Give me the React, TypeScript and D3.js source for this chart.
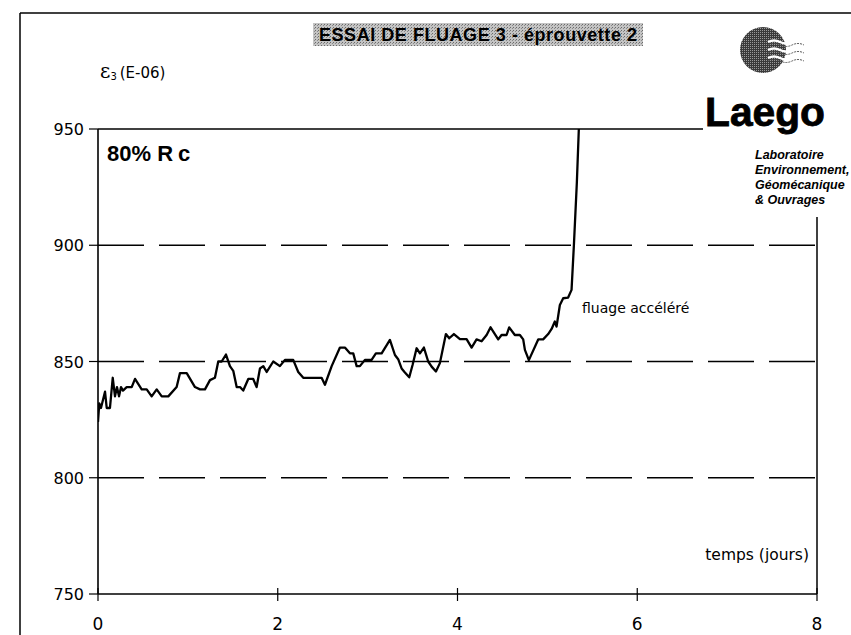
import React from "react";
import * as d3 from "d3";

// creep test: strain vs time (days)
const days = [0, 0.014, 0.033, 0.078, 0.097, 0.133, 0.164, 0.189, 0.211, 0.234, 0.256, 0.278, 0.319, 0.375, 0.412, 0.486, 0.542, 0.597, 0.653, 0.709, 0.782, 0.875, 0.912, 0.987, 1.079, 1.135, 1.19, 1.246, 1.301, 1.338, 1.376, 1.424, 1.468, 1.505, 1.543, 1.58, 1.616, 1.672, 1.727, 1.765, 1.802, 1.839, 1.877, 1.95, 2.024, 2.08, 2.172, 2.228, 2.284, 2.488, 2.525, 2.6, 2.692, 2.747, 2.803, 2.84, 2.878, 2.914, 2.97, 3.044, 3.092, 3.156, 3.248, 3.304, 3.34, 3.378, 3.415, 3.463, 3.5, 3.545, 3.582, 3.626, 3.674, 3.712, 3.76, 3.804, 3.871, 3.908, 3.96, 4.027, 4.101, 4.157, 4.212, 4.268, 4.324, 4.368, 4.453, 4.49, 4.546, 4.575, 4.638, 4.694, 4.731, 4.75, 4.794, 4.898, 4.953, 5.009, 5.047, 5.083, 5.102, 5.139, 5.176, 5.231, 5.269, 5.295, 5.328, 5.35];
const strain = [824, 832, 830, 837, 830, 830, 843, 835, 839, 835, 839, 837.5, 839, 839, 842.5, 838, 838, 835, 838, 835, 835, 839, 845, 845, 839, 838, 838, 842, 843, 850, 850, 853, 848, 846, 839, 839, 837.5, 842.5, 842.5, 839, 847, 848, 845.5, 850, 848, 850.7, 850.7, 845.5, 843, 843, 840, 848, 856, 856, 853.5, 853.5, 848, 848, 850.7, 850.7, 853.5, 853.5, 859.3, 852.8, 851, 847, 845.3, 843.2, 848.5, 855.7, 853.5, 856, 850, 847.8, 845.7, 849.3, 861.8, 860, 861.8, 859.6, 859.6, 856, 859.5, 858.7, 861.4, 864.7, 859.5, 861.4, 861.4, 864.7, 861.4, 861.4, 859.5, 855, 850.6, 859.5, 859.5, 861.8, 864, 867.2, 865, 874.3, 877.2, 877.5, 880.8, 900, 927, 950];

const xTicks = [0, 2, 4, 6, 8];
const yTicks = [750, 800, 850, 900, 950];
const gridValues = [800, 850, 900];
const logoLines = ["Laboratoire", "Environnement,", "Géomécanique", "& Ouvrages"];

const W = 851;
const H = 635;
const left = 98;
const right = 817;
const top = 129;
const bottom = 594;

const App: React.FunctionComponent = function () {
  const x = d3.scaleLinear().domain([0, 8]).range([left, right]);
  const y = d3.scaleLinear().domain([750, 950]).range([bottom, top]);
  const pts: [number, number][] = days.map((d, i) => [d, strain[i]]);
  const line = d3
    .line<[number, number]>()
    .x((d) => x(d[0]))
    .y((d) => y(d[1]));

  const gothic = "'DejaVu Sans', 'Liberation Sans', sans-serif";
  const narrow = "'Liberation Sans Narrow', 'Liberation Sans', Arial, sans-serif";

  return (
    <svg
      width={W}
      height={H}
      style={{ position: "absolute", left: 0, top: 0, background: "#fff" }}
    >
      <defs>
        <pattern id="stip" width="3" height="3" patternUnits="userSpaceOnUse">
          <rect width="3" height="3" fill="#c4c4c4" />
          <rect x="0" y="0" width="1" height="1" fill="#6a6a6a" />
          <rect x="2" y="1" width="1" height="1" fill="#8a8a8a" />
        </pattern>
        <pattern id="dark" width="2" height="2" patternUnits="userSpaceOnUse">
          <rect width="2" height="2" fill="#3a3a3a" />
          <rect x="0" y="0" width="1" height="1" fill="#9a9a9a" />
        </pattern>
        <clipPath id="plot">
          <rect x={left} y={top} width={right - left} height={bottom - top} />
        </clipPath>
      </defs>

      {/* page frame */}
      <line x1={20} y1={13} x2={W} y2={13} stroke="#000" strokeWidth={1.5} />
      <line x1={20} y1={13} x2={20} y2={H} stroke="#000" strokeWidth={1.5} />

      {/* title */}
      <rect x={313} y={23} width={330} height={23} fill="url(#stip)" />
      <text
        x={478}
        y={41}
        textAnchor="middle"
        fontFamily="'Liberation Sans', Arial, sans-serif"
        fontWeight="bold"
        fontSize={18}
        textLength={318}
        lengthAdjust="spacing"
      >
        ESSAI DE FLUAGE 3 - éprouvette 2
      </text>

      {/* y label */}
      <text x={100} y={78} fontFamily={gothic} fontSize={15}>
        <tspan fontFamily="'DejaVu Serif', serif" fontSize={20}>ε</tspan>
        <tspan fontSize={10} dy={2}>3</tspan>
        <tspan dy={-2} dx={3}>(E-06)</tspan>
      </text>

      {/* grid */}
      {gridValues.map((v) => (
        <line
          key={v}
          x1={left}
          x2={right}
          y1={y(v)}
          y2={y(v)}
          stroke="#000"
          strokeWidth={1.5}
          strokeDasharray="46,15"
        />
      ))}

      {/* plot frame */}
      <line x1={left} y1={top} x2={703} y2={top} stroke="#000" strokeWidth={1.5} />
      <line x1={right} y1={217} x2={right} y2={bottom} stroke="#000" strokeWidth={1.5} />
      <line x1={left} y1={top} x2={left} y2={bottom} stroke="#000" strokeWidth={1.6} />
      <line x1={left} y1={bottom} x2={right} y2={bottom} stroke="#000" strokeWidth={1.6} />

      {/* y ticks */}
      {yTicks.map((v) => (
        <g key={v}>
          <line x1={left - 9} x2={left} y1={y(v)} y2={y(v)} stroke="#000" strokeWidth={1.2} />
          <text
            x={left - 14}
            y={y(v) + 6}
            textAnchor="end"
            fontFamily={gothic}
            fontSize={16}
          >
            {v}
          </text>
        </g>
      ))}

      {/* x ticks */}
      {xTicks.map((v) => (
        <g key={v}>
          <line x1={x(v)} x2={x(v)} y1={bottom - 6} y2={bottom + 7} stroke="#000" strokeWidth={1.2} />
          <text
            x={x(v)}
            y={bottom + 36}
            textAnchor="middle"
            fontFamily={gothic}
            fontSize={17}
          >
            {v}
          </text>
        </g>
      ))}

      {/* data */}
      <path
        d={line(pts) ?? ""}
        fill="none"
        stroke="#000"
        strokeWidth={2.3}
        strokeLinejoin="round"
        clipPath="url(#plot)"
      />

      {/* annotations */}
      <text x={107} y={161} fontFamily="'Liberation Sans', Arial, sans-serif" fontWeight="bold" fontSize={22}>
        80% R<tspan dx={5}>c</tspan>
      </text>
      <text x={582} y={313} fontFamily={gothic} fontSize={14}>
        fluage accéléré
      </text>
      <text x={809} y={560} textAnchor="end" fontFamily={gothic} fontSize={15.5}>
        temps (jours)
      </text>

      {/* logo */}
      <circle cx={763} cy={50} r={23} fill="url(#dark)" />
      {[0, 1, 2].map((i) => (
        <g key={i}>
          <path
            d={`M768 ${42 + i * 8} q6 -3 12 0 t12 0 t12 0`}
            fill="none"
            stroke="#fff"
            strokeWidth={2.5}
          />
          <path
            d={`M768 ${45 + i * 8} q6 -3 12 0 t12 0 t12 0`}
            fill="none"
            stroke="#555"
            strokeWidth={1}
            strokeDasharray="2,1"
          />
        </g>
      ))}
      <text
        x={705}
        y={126}
        fontFamily={narrow}
        fontWeight="bold"
        fontSize={40}
        stroke="#000"
        strokeWidth={0.8}
        textLength={120}
        lengthAdjust="spacingAndGlyphs"
      >
        Laego
      </text>
      {logoLines.map((t, i) => (
        <text
          key={t}
          x={755}
          y={159 + i * 15}
          fontFamily={narrow}
          fontWeight="bold"
          fontStyle="italic"
          fontSize={12.5}
        >
          {t}
        </text>
      ))}
    </svg>
  );
};

export default App;
